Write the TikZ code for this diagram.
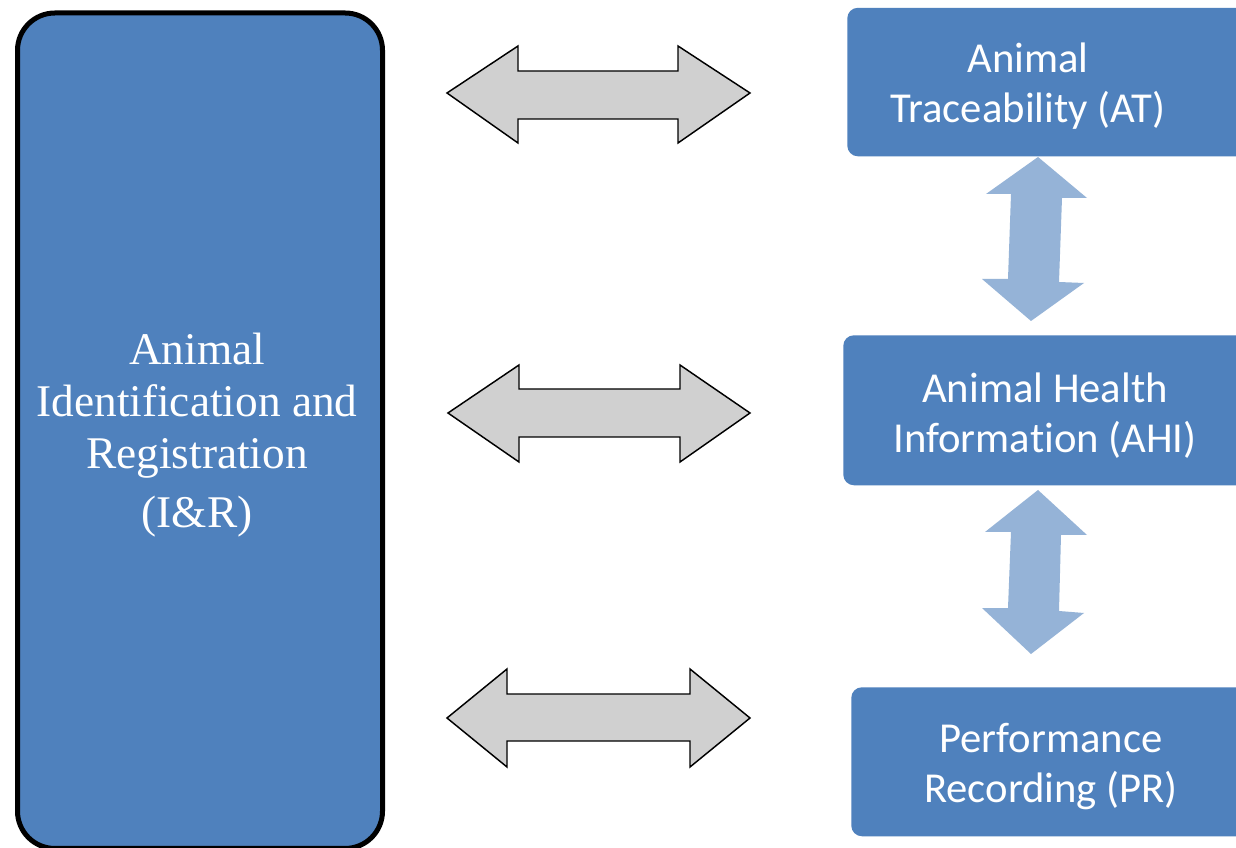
\documentclass[tikz,border=0pt]{standalone}
\usepackage{fontspec}
\setmainfont{Liberation Serif}
\newfontfamily\calib[Ligatures={NoCommon}]{Carlito}
\definecolor{boxblue}{HTML}{4F81BD}
\definecolor{lightarrow}{HTML}{95B3D7}
\definecolor{grayarrow}{HTML}{D0D0D0}
\tikzset{
  bigbox/.style={draw=black, line width=3.75pt, fill=boxblue, rounded corners=28pt,
    inner sep=0pt, anchor=north west, minimum width=273.75pt},
  sidebox/.style={draw=none, fill=boxblue, rounded corners=8pt, inner sep=0pt,
    anchor=north west, minimum width=315pt},
  bigtext/.style={text=white, align=center, inner sep=0pt,
    font=\fontsize{34}{39}\selectfont},
  sidetext/.style={text=white, align=center, inner sep=0pt,
    font=\calib\fontsize{32}{37.5}\selectfont},
  grayarr/.style={draw=black, line width=1.1pt, fill=grayarrow, line join=miter},
  bluearr/.style={draw=none, fill=lightarrow}
}
\begin{document}
\begin{tikzpicture}[x=0.75pt,y=-0.75pt]
\useasboundingbox (0,0) rectangle (1236,848);
\clip (0,0) rectangle (1236,848);
\fill[white] (0,0) rectangle (1236,848);
% boxes
\node[bigbox, minimum height=626.6pt] (ir) at (15,10.5) {};
\node[sidebox, minimum height=111.4pt] (at) at (847,7.5) {};
\node[sidebox, minimum height=112.5pt] (ahi) at (843,335) {};
\node[sidebox, minimum height=111.75pt] (pr) at (851,687) {};
% texts
\node[bigtext] (irt) at (197,435) {Animal\\Identification and\\Registration\\[5pt](I\&R)};
\node[sidetext] (att) at (1028,86) {Animal\\Traceability (AT)};
\node[sidetext] (ahit) at (1045,416) {Animal Health\\Informa\kern0pt tion (AHI)};
\node[sidetext] (prt) at (1051,767) {Performance\\Recording (PR)};
% gray double arrows
\draw[grayarr] (447,93) -- (518,46) -- (518,71) -- (678,71) -- (678,46) -- (750,93)
  -- (678,143) -- (678,119) -- (518,119) -- (518,143) -- cycle;
\draw[grayarr] (448,413) -- (519,365) -- (519,389) -- (680,389) -- (680,365) -- (750,413)
  -- (680,462) -- (680,437) -- (519,437) -- (519,462) -- cycle;
\draw[grayarr] (447,718) -- (507,669) -- (507,694) -- (690,694) -- (690,669) -- (750,718)
  -- (690,767) -- (690,741) -- (507,741) -- (507,767) -- cycle;
% light blue vertical arrows
\fill[bluearr] (1038,157) -- (1087,198) -- (1062,198) -- (1059,282) -- (1084,283)
  -- (1031,321) -- (982,279) -- (1008,279) -- (1011,194) -- (986,194) -- cycle;
\fill[bluearr] (1038,490) -- (1087,535) -- (1061,535) -- (1059,611) -- (1084,613)
  -- (1031,654) -- (982,608) -- (1008,608) -- (1011,532) -- (985,532) -- cycle;
\end{tikzpicture}
\end{document}
